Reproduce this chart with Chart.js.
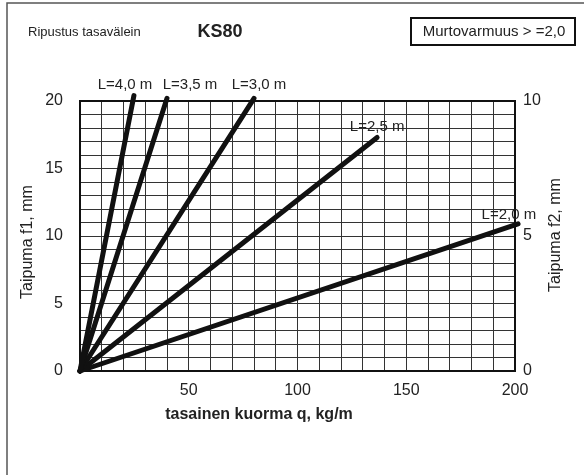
<!DOCTYPE html>
<html>
<head>
<meta charset="utf-8">
<script src="https://cdn.jsdelivr.net/npm/chart.js@4.4.0/dist/chart.umd.min.js"></script>
<style>
  html, body { margin: 0; padding: 0; background: #fff; }
  #chart { display: block; }
</style>
</head>
<body>
<canvas id="chart" width="584" height="475"></canvas>
<script>
// Span lengths and the end point of each deflection line (all start at 0,0)
const spanLabels = ['L=4,0 m', 'L=3,5 m', 'L=3,0 m', 'L=2,5 m', 'L=2,0 m'];
const endLoad = [24.8, 40.0, 80.0, 136.6, 201.4];        // kg/m
const endDeflection = [20.4, 20.2, 20.2, 17.3, 10.9];    // mm (f1)
// where the span label sits, in chart units
const labelLoad = [20.7, 50.6, 82.3, 136.6, 197.2];
const labelDeflection = [21.2, 21.2, 21.2, 18.1, 11.6];

const xTickLabels = [50, 100, 150, 200];
const f1TickLabels = [0, 5, 10, 15, 20];
const f2TickLabels = [0, 5, 10];

const FONT = '"Liberation Sans", Arial, sans-serif';
const TEXT = '#222';

const datasets = spanLabels.map((name, i) => ({
    label: name,
    data: [{ x: 0, y: 0 }, { x: endLoad[i], y: endDeflection[i] }],
    borderColor: '#111',
    borderWidth: 5,
    borderCapStyle: 'round',
    pointRadius: 0,
    showLine: true,
    clip: false,
    yAxisID: 'y'
}));

// Header texts, frame, axis titles, span labels
const decorPlugin = {
    id: 'decor',
    afterDraw(chart) {
        const ctx = chart.ctx;
        const area = chart.chartArea;
        const xs = chart.scales.x;
        const ys = chart.scales.y;
        ctx.save();

        // outer frame (only left and top visible)
        ctx.strokeStyle = '#555';
        ctx.lineWidth = 1.5;
        ctx.beginPath();
        ctx.moveTo(7, 475);
        ctx.lineTo(7, 3);
        ctx.lineTo(584, 3);
        ctx.stroke();

        // plot border
        ctx.strokeStyle = '#111';
        ctx.lineWidth = 2;
        ctx.strokeRect(area.left, area.top, area.right - area.left, area.bottom - area.top);

        ctx.fillStyle = TEXT;
        ctx.textBaseline = 'middle';

        ctx.font = '13px ' + FONT;
        ctx.textAlign = 'left';
        ctx.fillText('Ripustus tasavälein', 28, 32);

        ctx.font = 'bold 18px ' + FONT;
        ctx.textAlign = 'center';
        ctx.fillText('KS80', 220, 32);

        ctx.strokeStyle = '#111';
        ctx.lineWidth = 2;
        ctx.strokeRect(411, 18, 164, 27);
        ctx.font = '15px ' + FONT;
        ctx.fillText('Murtovarmuus > =2,0', 494, 32);

        // x title
        ctx.font = 'bold 16px ' + FONT;
        ctx.fillText('tasainen kuorma q, kg/m', 259, 415);

        // y titles
        ctx.font = '16px ' + FONT;
        ctx.save();
        ctx.translate(28, 242);
        ctx.rotate(-Math.PI / 2);
        ctx.fillText('Taipuma f1, mm', 0, 0);
        ctx.restore();
        ctx.save();
        ctx.translate(556, 235);
        ctx.rotate(-Math.PI / 2);
        ctx.fillText('Taipuma f2, mm', 0, 0);
        ctx.restore();

        // span labels
        ctx.font = '15px ' + FONT;
        spanLabels.forEach((name, i) => {
            ctx.fillText(name, xs.getPixelForValue(labelLoad[i]), ys.getPixelForValue(labelDeflection[i]));
        });

        ctx.restore();
    }
};

new Chart(document.getElementById('chart'), {
    type: 'scatter',
    data: { datasets: datasets },
    options: {
        responsive: false,
        animation: false,
        events: [],
        layout: { padding: { top: 101, left: 0, right: 0, bottom: 0 } },
        plugins: {
            legend: { display: false },
            tooltip: { enabled: false }
        },
        scales: {
            x: {
                type: 'linear',
                min: 0,
                max: 200,
                afterFit: s => { s.height = 104; },
                grid: { color: '#333', lineWidth: 1, drawTicks: false },
                border: { display: false },
                ticks: {
                    stepSize: 10,
                    autoSkip: false,
                    maxRotation: 0,
                    padding: 10,
                    color: TEXT,
                    font: { family: FONT, size: 16 },
                    callback: v => xTickLabels.includes(v) ? String(v) : ''
                }
            },
            y: {
                type: 'linear',
                position: 'left',
                min: 0,
                max: 20,
                afterFit: s => { s.width = 80; },
                grid: { color: '#333', lineWidth: 1, drawTicks: false },
                border: { display: false },
                ticks: {
                    stepSize: 1,
                    autoSkip: false,
                    padding: 17,
                    color: TEXT,
                    font: { family: FONT, size: 16 },
                    callback: v => f1TickLabels.includes(v) ? String(v) : ''
                }
            },
            y2: {
                type: 'linear',
                position: 'right',
                min: 0,
                max: 10,
                afterFit: s => { s.width = 69; },
                grid: { display: false, drawTicks: false },
                border: { display: false },
                ticks: {
                    stepSize: 5,
                    autoSkip: false,
                    padding: 8,
                    color: TEXT,
                    font: { family: FONT, size: 16 },
                    callback: v => f2TickLabels.includes(v) ? String(v) : ''
                }
            }
        }
    },
    plugins: [decorPlugin]
});
</script>
</body>
</html>
